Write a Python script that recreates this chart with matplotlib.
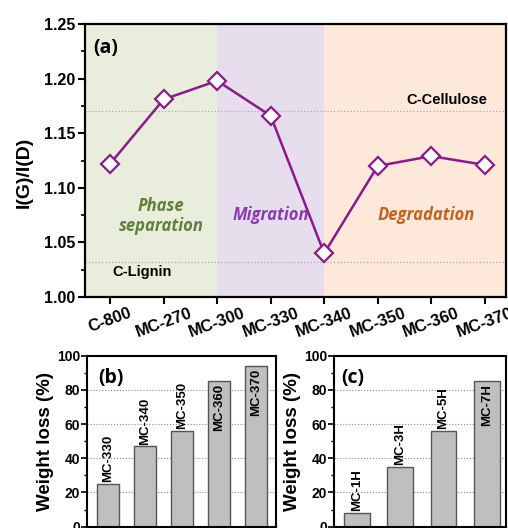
import matplotlib.pyplot as plt
import numpy as np
from matplotlib.ticker import MultipleLocator

plt.rcParams['font.family'] = ['Liberation Sans', 'DejaVu Sans']

# panel (a) data
samples = ['C-800', 'MC-270', 'MC-300', 'MC-330', 'MC-340', 'MC-350', 'MC-360', 'MC-370']
ratio = [1.122, 1.181, 1.198, 1.166, 1.040, 1.120, 1.129, 1.121]
cellulose_ref = 1.170
lignin_ref = 1.032

# panel (b) data
temp_names = ['MC-330', 'MC-340', 'MC-350', 'MC-360', 'MC-370']
temp_loss = [25, 47, 56, 85, 94]

# panel (c) data
time_names = ['MC-1H', 'MC-3H', 'MC-5H', 'MC-7H']
time_loss = [8, 35, 56, 85]

fig = plt.figure(figsize=(5.08, 5.28), dpi=100)

# ---- panel (a)
ax = fig.add_axes([0.1673, 0.4375, 0.829, 0.517])
x = np.arange(len(samples))
ax.axvspan(-0.5, 2, color='#e9eedc', lw=0, zorder=0)
ax.axvspan(2, 4, color='#e6dded', lw=0, zorder=0)
ax.axvspan(4, 7.5, color='#fde8da', lw=0, zorder=0)
ax.axhline(cellulose_ref, color='#aaaaaa', ls=':', lw=0.9, zorder=1)
ax.axhline(lignin_ref, color='#aaaaaa', ls=':', lw=0.9, zorder=1)
ax.plot(x, ratio, '-', color='#8b1a89', lw=1.8, marker='D', ms=9,
        mfc='white', mec='#8b1a89', mew=1.6, zorder=3)
ax.set_xlim(-0.47, 7.4)
ax.set_ylim(1.0, 1.25)
ax.set_xticks(x)
ax.set_xticklabels(samples, rotation=20, fontsize=12, fontweight='bold',
                   ha='center', va='top')
yt = np.arange(1.0, 1.26, 0.05)
ax.set_yticks(yt)
ax.set_yticklabels(['%.2f' % v for v in yt], fontsize=11.5, fontweight='bold')
ax.yaxis.set_minor_locator(MultipleLocator(0.025))
ax.set_ylim(1.0, 1.25)
ax.tick_params(axis='both', which='major', direction='out', length=5, width=1.5, pad=2)
ax.tick_params(axis='y', which='minor', direction='out', length=3, width=1.2)
ax.tick_params(axis='x', which='major', pad=1)
for s in ax.spines.values():
    s.set_linewidth(1.6)
ax.set_ylabel('I(G)/I(D)', fontsize=14, fontweight='bold')
ax.yaxis.set_label_coords(-0.125, 0.455)

ax.text(0.02, 0.95, '(a)', transform=ax.transAxes, fontsize=14, fontweight='bold',
        family='Open Sans', va='top', ha='left')
ax.text(0.95, 1.074, 'Phase\nseparation', fontsize=12, fontweight='bold', style='italic',
        family='Open Sans', color='#5f7f3c', ha='center', va='center', linespacing=1.15)
ax.text(3.0, 1.0755, 'Migration', fontsize=12, fontweight='bold', style='italic',
        family='Open Sans', color='#8a3ab0', ha='center', va='center')
ax.text(5.9, 1.0755, 'Degradation', fontsize=12, fontweight='bold', style='italic',
        family='Open Sans', color='#c0651f', ha='center', va='center')
ax.text(6.3, 1.18, 'C-Cellulose', fontsize=10.5, fontweight='bold', ha='center', va='center')
ax.text(0.6, 1.0225, 'C-Lignin', fontsize=10.5, fontweight='bold', ha='center', va='center')


def bar_panel(rect, names, loss, label, xl, lx):
    bx = fig.add_axes(rect)
    pos = np.arange(len(names))
    bx.bar(pos, loss, width=0.6, color='#bfbfbf', edgecolor='#555555', lw=1.0, zorder=2)
    for p, v, n in zip(pos, loss, names):
        if v > 75:
            bx.text(p, v - 1.5, n, rotation=90, ha='center', va='top',
                    fontsize=9.5, fontweight='bold', zorder=3)
        else:
            bx.text(p, v + 1, n, rotation=90, ha='center', va='bottom',
                    fontsize=9.5, fontweight='bold', zorder=3)
    bx.set_xlim(*xl)
    bx.set_ylim(0, 100)
    bx.set_xticks([])
    bx.yaxis.set_major_locator(MultipleLocator(20))
    bx.yaxis.set_minor_locator(MultipleLocator(10))
    bx.grid(axis='y', which='major', color='#888888', ls=':', lw=0.8, zorder=0)
    bx.tick_params(axis='y', which='major', direction='out', length=4, width=1.2,
                   labelsize=10, pad=1)
    bx.tick_params(axis='y', which='minor', direction='out', length=2.5, width=1.0)
    for t in bx.get_yticklabels():
        t.set_fontweight('bold')
    for s in bx.spines.values():
        s.set_linewidth(1.5)
    bx.set_ylabel('Weight loss (%)', fontsize=13.5, fontweight='bold', labelpad=2)
    bx.text(lx, 0.93, label, transform=bx.transAxes, fontsize=14, fontweight='bold',
            family='Open Sans', va='top', ha='left')
    return bx


bar_panel([0.1713, 0.0025, 0.372, 0.3238], temp_names, temp_loss, '(b)', (-0.56, 4.55), 0.06)
bar_panel([0.6575, 0.0025, 0.339, 0.3238], time_names, time_loss, '(c)', (-0.53, 3.45), 0.04)

fig.savefig('out.png', dpi=100)
